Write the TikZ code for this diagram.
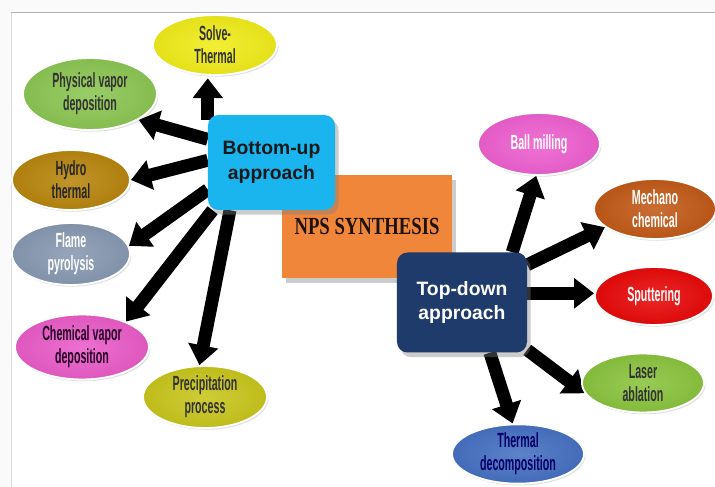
\documentclass[tikz,border=0pt]{standalone}
\usepackage{fontspec}
\setmainfont{Liberation Sans}
\newfontfamily\narrowfont[FakeStretch=0.52]{Liberation Sans}
\newfontfamily\slabfont[FakeStretch=0.76]{Liberation Serif}
\usetikzlibrary{shapes.geometric,arrows.meta,shadows,backgrounds}

\definecolor{cSolve}{HTML}{F0EC1A}
\definecolor{cPvd}{HTML}{8CC653}
\definecolor{cHydro}{HTML}{B8860E}
\definecolor{cFlame}{HTML}{8899B2}
\definecolor{cCvd}{HTML}{EA5CC8}
\definecolor{cPrec}{HTML}{C8C61C}
\definecolor{cBall}{HTML}{EE60D0}
\definecolor{cMech}{HTML}{C25A18}
\definecolor{cSput}{HTML}{E80A0A}
\definecolor{cLaser}{HTML}{8AC43E}
\definecolor{cTherm}{HTML}{4671C2}
\definecolor{cBottom}{HTML}{1AB4EE}
\definecolor{cTop}{HTML}{1F3B6C}
\definecolor{cNps}{HTML}{F0863A}

\tikzset{
  method/.style={ellipse, draw=white, line width=1.6pt, inner sep=0pt, align=center,
    font=\narrowfont\bfseries\fontsize{17.5}{19.5}\selectfont,
    drop shadow={opacity=0.25, shadow xshift=1.2pt, shadow yshift=-1.5pt}},
  mfill/.style={inner color=#1!88!white, outer color=#1!95!black},
  approach/.style={rounded corners=9pt, inner sep=0pt, align=center,
    font=\bfseries\fontsize{16.5}{21}\selectfont,
    drop shadow={opacity=0.4, shadow xshift=3pt, shadow yshift=-4pt}},
  fat/.style={line width=11pt, -{Triangle[width=25pt,length=17pt]}},
}

\begin{document}
\begin{tikzpicture}[x=0.03cm, y=-0.03cm]
\useasboundingbox (0,0) rectangle (715,487);

% centre block and the two approaches
\node[fill=cNps, inner sep=0pt, minimum width=5.1cm, minimum height=3.09cm,
  font=\slabfont\bfseries\fontsize{21}{24}\selectfont, text=black!85!brown,
  drop shadow={opacity=0.4, shadow xshift=3pt, shadow yshift=-4pt}] (nps) at (367,226.5) {NPS SYNTHESIS};
\node[approach, fill=cBottom, text=black!90, minimum width=3.81cm, minimum height=2.85cm] (bu) at (271.5,162.5) {Bottom-up\\approach};
\node[approach, fill=cTop, text=white, minimum width=3.9cm, minimum height=3cm] (td) at (462,302.5) {Top-down\\approach};

% bottom-up methods
\node[method, mfill=cSolve, text=black!80, minimum width=3.72cm, minimum height=1.8cm] (st) at (215,45) {Solve-\\Thermal};
\node[method, mfill=cPvd, text=black!80, minimum width=4.02cm, minimum height=2.16cm] (pvd) at (90,94) {Physical vapor\\deposition};
\node[method, mfill=cHydro, text=black!85, minimum width=3.54cm, minimum height=1.8cm] (hyd) at (71,180) {Hydro\\thermal};
\node[method, mfill=cFlame, text=white, minimum width=3.54cm, minimum height=1.86cm] (flm) at (71,254) {Flame\\pyrolysis};
\node[method, mfill=cCvd, text=black!70!violet, minimum width=4.02cm, minimum height=1.95cm] (cvd) at (82,347) {Chemical vapor\\deposition};
\node[method, mfill=cPrec, text=black!80, minimum width=3.72cm, minimum height=1.86cm] (prc) at (205,397) {Precipitation\\process};

% top-down methods
\node[method, mfill=cBall, text=white, minimum width=3.66cm, minimum height=1.86cm] (bm) at (539,144) {Ball milling};
\node[method, mfill=cMech, text=white, minimum width=3.66cm, minimum height=1.8cm] (mc) at (655,209) {Mechano\\chemical};
\node[method, mfill=cSput, text=white!90!pink, minimum width=3.54cm, minimum height=1.74cm] (sp) at (654,296) {Sputtering};
\node[method, mfill=cLaser, text=black!80, minimum width=3.66cm, minimum height=1.77cm] (la) at (643,383) {Laser\\ablation};
\node[method, mfill=cTherm, text=black!60!blue, minimum width=3.96cm, minimum height=1.74cm] (tdc) at (518,454) {Thermal\\decomposition};

\begin{pgfonlayer}{background}
  \fill[black!2] (0,0) rectangle (715,487);
  \fill[white] (11,12) rectangle (715,487);
  \draw[black!15] (11,487) -- (11,12);
  \draw[black!30] (11,12) -- (715,12);

  \draw[fat, shorten >=2pt] (bu.146) -- (bu.146 |- st.south);
  \draw[fat] (bu.160) -- (pvd.-28);
  \draw[fat] (bu.178) -- (hyd.east);
  \draw[fat] (bu.203) -- (flm.8);
  \draw[fat] (bu.219) -- (cvd.30);
  \draw[fat] (bu.229) -- (prc.100);

  \draw[fat] (td.45) -- (bm.-95);
  \draw[fat] (td.30) -- (mc.200);
  \draw[fat] (td.8) -- (td.8 -| sp.west);
  \draw[fat] (td.-36) -- (la.190);
  \draw[fat] (td.-61) -- (tdc.100);
\end{pgfonlayer}
\end{tikzpicture}
\end{document}
